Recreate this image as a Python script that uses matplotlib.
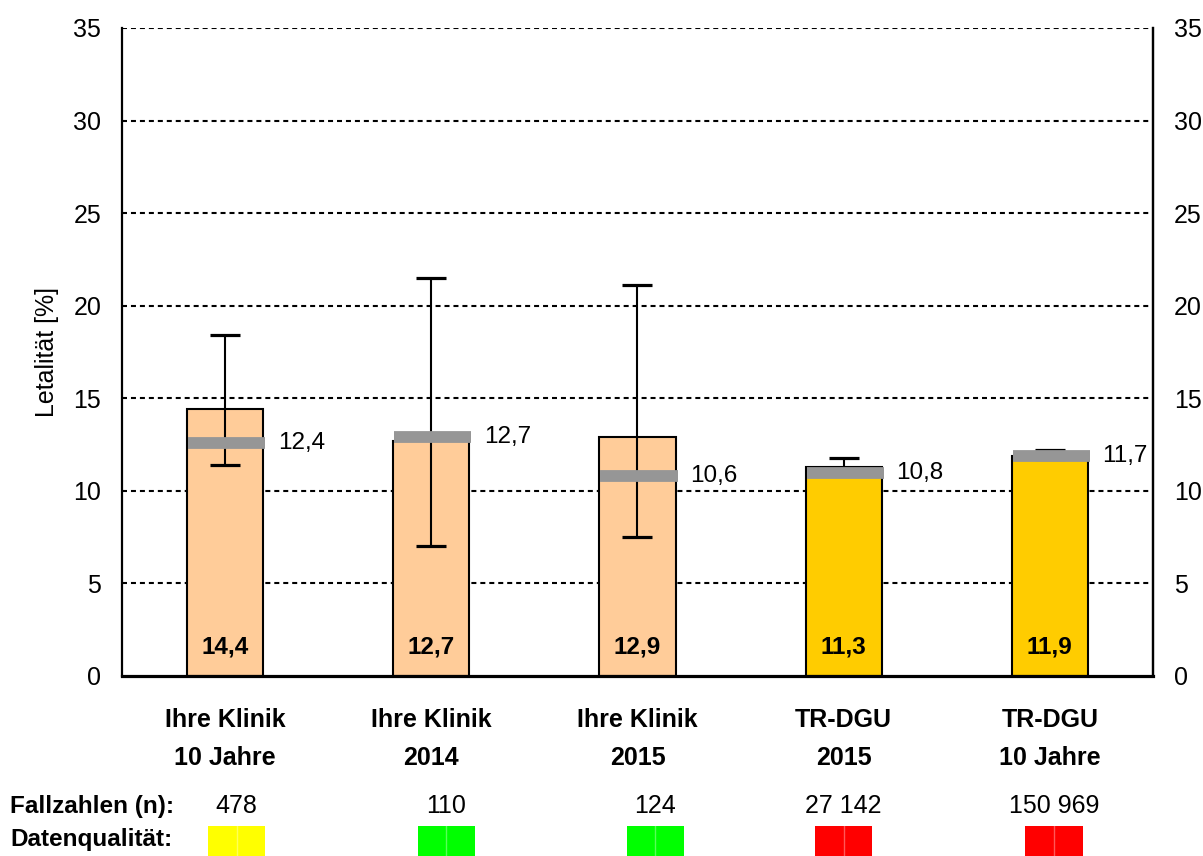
import matplotlib
matplotlib.use('Agg')
import matplotlib.pyplot as plt
from matplotlib.patches import Rectangle
from matplotlib.transforms import blended_transform_factory, offset_copy

plt.rcParams['font.family'] = ['Liberation Sans', 'DejaVu Sans']

# --- Data ---
categories = ['Ihre Klinik\n10 Jahre', 'Ihre Klinik\n2014', 'Ihre Klinik\n2015',
              'TR-DGU\n2015', 'TR-DGU\n10 Jahre']
letality = [14.4, 12.7, 12.9, 11.3, 11.9]
ci_low = [11.4, 7.0, 7.5, 10.9, 11.7]
ci_high = [18.4, 21.5, 21.1, 11.8, 12.2]
expected = [12.4, 12.7, 10.6, 10.8, 11.7]
case_counts = ['478', '110', '124', '27 142', '150 969']
quality = ['#FFFF00', '#00FF00', '#00FF00', '#FF0000', '#FF0000']

bar_colors = ['#FFCC99', '#FFCC99', '#FFCC99', '#FFCC00', '#FFCC00']
row_shift = [0.056, 0.073, 0.087, 0.0, 0.02]


def de(v):
    return f'{v:.1f}'.replace('.', ',')


fig = plt.figure(figsize=(12.03, 8.56), dpi=100)
ax = fig.add_axes([0.1014, 0.2103, 0.857, 0.757])

x = list(range(len(categories)))

# dotted grid
for yv in range(5, 40, 5):
    ax.axhline(yv, color='black', linestyle=(0, (2.4, 1.9)), linewidth=1.5, zorder=0)

ax.bar(x, letality, width=0.37, color=bar_colors, edgecolor='black', linewidth=1.5, zorder=2)

# confidence intervals
yerr = [[l - lo for l, lo in zip(letality, ci_low)], [hi - l for l, hi in zip(letality, ci_high)]]
ax.errorbar(x, letality, yerr=yerr, fmt='none', ecolor='black', elinewidth=1.5,
            capsize=11, capthick=2.3, zorder=3)

# expected mortality markers (drawn slightly raised like the Excel marker)
up = offset_copy(ax.transData, fig=fig, y=2.5, units='points')
for xi, e in zip(x, expected):
    ax.plot([xi - 0.18, xi + 0.195], [e, e], color='#969696', linewidth=8.5,
            solid_capstyle='butt', zorder=4, transform=up)
    ax.text(xi + 0.255, e, de(e), fontsize=17.5, va='center', ha='left', zorder=5,
            transform=up)

# values inside bars
for xi, v in zip(x, letality):
    ax.text(xi, 1.57, de(v), fontsize=17.5, fontweight='bold', ha='center', va='center', zorder=5)

ax.set_xlim(-0.5, 4.5)
ax.set_ylim(0, 35)
ax.set_yticks(range(0, 40, 5))
ax.tick_params(axis='y', length=0, pad=15, labelsize=18)
ax.set_xticks(x)
ax.set_xticklabels(categories, fontweight='bold', fontsize=18, linespacing=1.72)
ax.tick_params(axis='x', length=0, pad=23)
ax.set_ylabel('Letalität [%]', fontsize=18, labelpad=10)

ax.spines['top'].set_visible(False)
ax.spines['bottom'].set_linewidth(2.3)
ax.spines['left'].set_linewidth(1.6)
ax.spines['right'].set_linewidth(1.6)

ax2 = ax.twinx()
ax2.set_ylim(0, 35)
ax2.set_yticks(range(0, 40, 5))
ax2.tick_params(axis='y', length=0, pad=15, labelsize=18)
for s in ['top', 'bottom', 'left']:
    ax2.spines[s].set_visible(False)
ax2.spines['right'].set_linewidth(1.6)

# case numbers and data quality row
trans = blended_transform_factory(ax.transData, fig.transFigure)
fig.text(0.0083, 0.0584, 'Fallzahlen (n):', fontsize=17.5, fontweight='bold', va='center')
fig.text(0.0083, 0.0187, 'Datenqualität:', fontsize=17.5, fontweight='bold', va='center')
sq_w = 0.277
for xi, n, col, sh in zip(x, case_counts, quality, row_shift):
    ax.text(xi + sh, 0.0584, n, transform=trans, fontsize=18, ha='center', va='center')
    ax.add_patch(Rectangle((xi + sh - sq_w / 2, 0.0), sq_w, 0.035, transform=trans,
                           facecolor=col, edgecolor='none', clip_on=False))
    ax.plot([xi + sh, xi + sh], [0.0, 0.035], transform=trans, color='white',
            alpha=0.35, linewidth=1, clip_on=False)

fig.savefig('out.png', dpi=100)
